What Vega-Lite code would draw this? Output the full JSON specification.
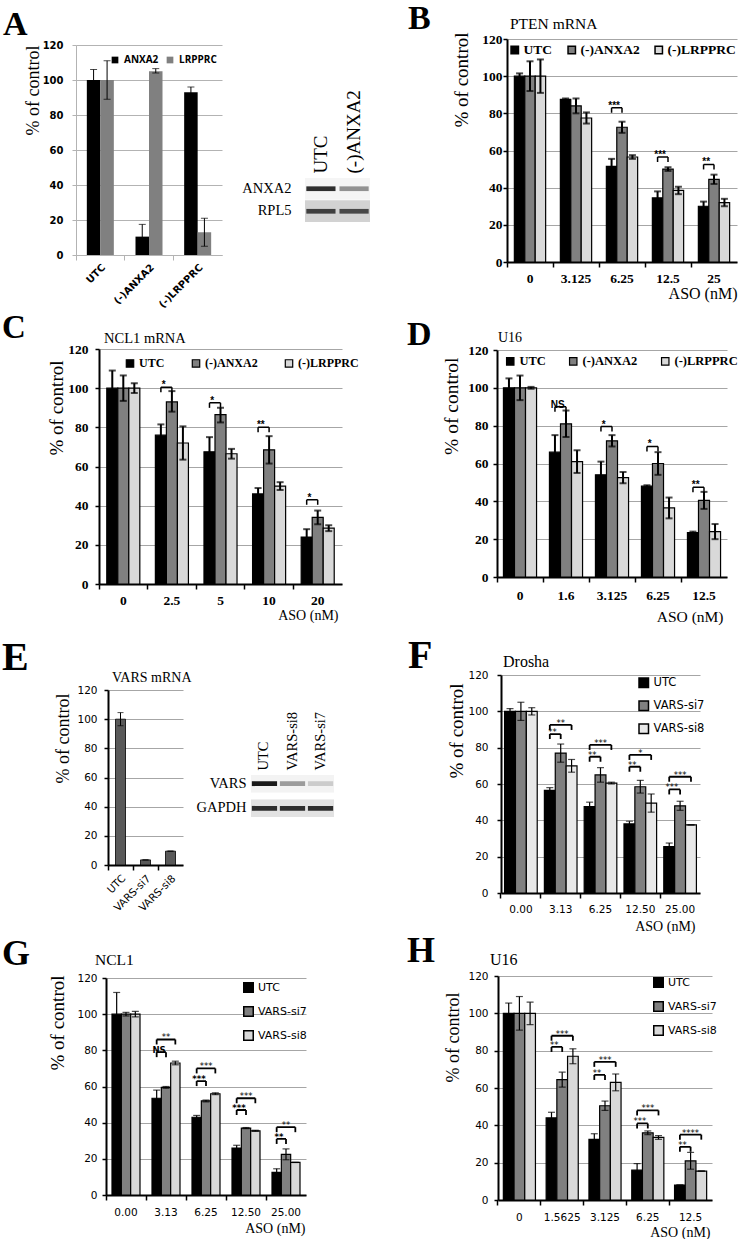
{
  "$schema": "https://vega.github.io/schema/vega-lite/v6.json",
  "padding": 0,
  "background": "white",
  "config": {"view": {"stroke": null}, "concat": {"spacing": 0}, "font": "Liberation Serif", "axisY": {"labelOverlap": false}},
  "datasets": {
    "A": [
      {"cat": "UTC", "grp": "ANXA2", "val": 100, "lo": 94, "hi": 106},
      {"cat": "UTC", "grp": "LRPPRC", "val": 100, "lo": 89, "hi": 111},
      {"cat": "(-)ANXA2", "grp": "ANXA2", "val": 10.5, "lo": 3, "hi": 17.5},
      {"cat": "(-)ANXA2", "grp": "LRPPRC", "val": 105, "lo": 104, "hi": 106.5},
      {"cat": "(-)LRPPRC", "grp": "ANXA2", "val": 93, "lo": 90, "hi": 96},
      {"cat": "(-)LRPPRC", "grp": "LRPPRC", "val": 13, "lo": 5, "hi": 21}
    ],
    "blotA": [
      {"lane": "UTC", "protein": "ANXA2", "intensity": 0.9},
      {"lane": "(-)ANXA2", "protein": "ANXA2", "intensity": 0.45},
      {"lane": "UTC", "protein": "RPL5", "intensity": 0.8},
      {"lane": "(-)ANXA2", "protein": "RPL5", "intensity": 0.75}
    ],
    "B": [
      {"dose": "0", "grp": "UTC", "val": 100, "lo": 98.5, "hi": 101.5},
      {"dose": "0", "grp": "(-)ANXA2", "val": 100, "lo": 92, "hi": 108},
      {"dose": "0", "grp": "(-)LRPPRC", "val": 100, "lo": 91, "hi": 109},
      {"dose": "3.125", "grp": "UTC", "val": 87.5, "lo": 87, "hi": 88},
      {"dose": "3.125", "grp": "(-)ANXA2", "val": 84, "lo": 80, "hi": 88},
      {"dose": "3.125", "grp": "(-)LRPPRC", "val": 77.5, "lo": 74.5, "hi": 80.5},
      {"dose": "6.25", "grp": "UTC", "val": 51.5, "lo": 47.5, "hi": 55.5},
      {"dose": "6.25", "grp": "(-)ANXA2", "val": 72.5, "lo": 69.5, "hi": 75.5},
      {"dose": "6.25", "grp": "(-)LRPPRC", "val": 56.5, "lo": 55.5, "hi": 57.5},
      {"dose": "12.5", "grp": "UTC", "val": 34.5, "lo": 31, "hi": 38},
      {"dose": "12.5", "grp": "(-)ANXA2", "val": 50, "lo": 49, "hi": 51},
      {"dose": "12.5", "grp": "(-)LRPPRC", "val": 38.5, "lo": 36.5, "hi": 40.5},
      {"dose": "25", "grp": "UTC", "val": 30, "lo": 27.5, "hi": 32.5},
      {"dose": "25", "grp": "(-)ANXA2", "val": 44.5, "lo": 42, "hi": 47},
      {"dose": "25", "grp": "(-)LRPPRC", "val": 32, "lo": 30, "hi": 34}
    ],
    "Bsig": [
      {"dose": "6.25", "to": "(-)ANXA2", "level": 83, "sig": "***"},
      {"dose": "12.5", "to": "(-)ANXA2", "level": 56.5, "sig": "***"},
      {"dose": "25", "to": "(-)ANXA2", "level": 52.5, "sig": "**"}
    ],
    "C": [
      {"dose": "0", "grp": "UTC", "val": 100, "lo": 91, "hi": 109},
      {"dose": "0", "grp": "(-)ANXA2", "val": 100, "lo": 93.5, "hi": 106.5},
      {"dose": "0", "grp": "(-)LRPPRC", "val": 100, "lo": 97.5, "hi": 102.5},
      {"dose": "2.5", "grp": "UTC", "val": 76, "lo": 70.5, "hi": 81.5},
      {"dose": "2.5", "grp": "(-)ANXA2", "val": 93, "lo": 88, "hi": 98.5},
      {"dose": "2.5", "grp": "(-)LRPPRC", "val": 72, "lo": 63.5, "hi": 80.5},
      {"dose": "5", "grp": "UTC", "val": 67.5, "lo": 60, "hi": 75},
      {"dose": "5", "grp": "(-)ANXA2", "val": 86.5, "lo": 82.5, "hi": 90},
      {"dose": "5", "grp": "(-)LRPPRC", "val": 66.5, "lo": 64, "hi": 69},
      {"dose": "10", "grp": "UTC", "val": 46, "lo": 43, "hi": 49},
      {"dose": "10", "grp": "(-)ANXA2", "val": 68.5, "lo": 61.5, "hi": 75.5},
      {"dose": "10", "grp": "(-)LRPPRC", "val": 50, "lo": 48, "hi": 52},
      {"dose": "20", "grp": "UTC", "val": 24, "lo": 20, "hi": 28},
      {"dose": "20", "grp": "(-)ANXA2", "val": 34, "lo": 30.5, "hi": 37.5},
      {"dose": "20", "grp": "(-)LRPPRC", "val": 28.5, "lo": 27, "hi": 30}
    ],
    "Csig": [
      {"dose": "2.5", "to": "(-)ANXA2", "level": 100.5, "sig": "*"},
      {"dose": "5", "to": "(-)ANXA2", "level": 92.5, "sig": "*"},
      {"dose": "10", "to": "(-)ANXA2", "level": 80, "sig": "**"},
      {"dose": "20", "to": "(-)ANXA2", "level": 43, "sig": "*"}
    ],
    "D": [
      {"dose": "0", "grp": "UTC", "val": 100, "lo": 95, "hi": 105},
      {"dose": "0", "grp": "(-)ANXA2", "val": 100, "lo": 93.5, "hi": 106.5},
      {"dose": "0", "grp": "(-)LRPPRC", "val": 100, "lo": 99.5, "hi": 100.5},
      {"dose": "1.6", "grp": "UTC", "val": 66, "lo": 57, "hi": 75},
      {"dose": "1.6", "grp": "(-)ANXA2", "val": 81, "lo": 74, "hi": 88},
      {"dose": "1.6", "grp": "(-)LRPPRC", "val": 61, "lo": 55, "hi": 67},
      {"dose": "3.125", "grp": "UTC", "val": 54, "lo": 47, "hi": 61},
      {"dose": "3.125", "grp": "(-)ANXA2", "val": 72, "lo": 69, "hi": 75},
      {"dose": "3.125", "grp": "(-)LRPPRC", "val": 52.5, "lo": 49.5, "hi": 55.5},
      {"dose": "6.25", "grp": "UTC", "val": 48, "lo": 47.5, "hi": 48.5},
      {"dose": "6.25", "grp": "(-)ANXA2", "val": 60, "lo": 54, "hi": 66},
      {"dose": "6.25", "grp": "(-)LRPPRC", "val": 36.5, "lo": 31, "hi": 42},
      {"dose": "12.5", "grp": "UTC", "val": 23.5, "lo": 23, "hi": 24},
      {"dose": "12.5", "grp": "(-)ANXA2", "val": 40.5, "lo": 36, "hi": 45},
      {"dose": "12.5", "grp": "(-)LRPPRC", "val": 24, "lo": 20, "hi": 28}
    ],
    "Dsig": [
      {"dose": "1.6", "to": "(-)ANXA2", "level": 90, "sig": "NS"},
      {"dose": "3.125", "to": "(-)ANXA2", "level": 79.5, "sig": "*"},
      {"dose": "6.25", "to": "(-)ANXA2", "level": 69, "sig": "*"},
      {"dose": "12.5", "to": "(-)ANXA2", "level": 47.5, "sig": "**"}
    ],
    "E": [
      {"cat": "UTC", "val": 100, "lo": 95.5, "hi": 104.5},
      {"cat": "VARS-si7", "val": 3.5, "lo": 3.5, "hi": 3.5},
      {"cat": "VARS-si8", "val": 9.5, "lo": 9.5, "hi": 9.5}
    ],
    "blotE": [
      {"lane": "UTC", "protein": "VARS", "intensity": 1},
      {"lane": "VARS-si8", "protein": "VARS", "intensity": 0.4},
      {"lane": "VARS-si7", "protein": "VARS", "intensity": 0.18},
      {"lane": "UTC", "protein": "GAPDH", "intensity": 0.9},
      {"lane": "VARS-si8", "protein": "GAPDH", "intensity": 0.9},
      {"lane": "VARS-si7", "protein": "GAPDH", "intensity": 0.9}
    ],
    "F": [
      {"dose": "0.00", "grp": "UTC", "val": 100, "lo": 98.5, "hi": 101.5},
      {"dose": "0.00", "grp": "VARS-si7", "val": 100, "lo": 95, "hi": 105},
      {"dose": "0.00", "grp": "VARS-si8", "val": 100, "lo": 98, "hi": 102},
      {"dose": "3.13", "grp": "UTC", "val": 56.5, "lo": 55, "hi": 58},
      {"dose": "3.13", "grp": "VARS-si7", "val": 77, "lo": 72, "hi": 82},
      {"dose": "3.13", "grp": "VARS-si8", "val": 70, "lo": 66.5, "hi": 73.5},
      {"dose": "6.25", "grp": "UTC", "val": 47.5, "lo": 45, "hi": 50},
      {"dose": "6.25", "grp": "VARS-si7", "val": 65, "lo": 61, "hi": 69},
      {"dose": "6.25", "grp": "VARS-si8", "val": 60.5, "lo": 60, "hi": 61},
      {"dose": "12.50", "grp": "UTC", "val": 38, "lo": 36.5, "hi": 39.5},
      {"dose": "12.50", "grp": "VARS-si7", "val": 58.5, "lo": 55, "hi": 62},
      {"dose": "12.50", "grp": "VARS-si8", "val": 49.5, "lo": 44.5, "hi": 54.5},
      {"dose": "25.00", "grp": "UTC", "val": 25.5, "lo": 23.5, "hi": 27.5},
      {"dose": "25.00", "grp": "VARS-si7", "val": 48, "lo": 45.5, "hi": 50.5},
      {"dose": "25.00", "grp": "VARS-si8", "val": 37.5, "lo": 37.5, "hi": 37.5}
    ],
    "Fsig": [
      {"dose": "3.13", "to": "VARS-si8", "level": 92.5, "sig": "**"},
      {"dose": "3.13", "to": "VARS-si7", "level": 87.5, "sig": "**"},
      {"dose": "6.25", "to": "VARS-si8", "level": 81.5, "sig": "***"},
      {"dose": "6.25", "to": "VARS-si7", "level": 75, "sig": "**"},
      {"dose": "12.50", "to": "VARS-si8", "level": 76, "sig": "*"},
      {"dose": "12.50", "to": "VARS-si7", "level": 69.5, "sig": "**"},
      {"dose": "25.00", "to": "VARS-si8", "level": 64, "sig": "***"},
      {"dose": "25.00", "to": "VARS-si7", "level": 57, "sig": "***"}
    ],
    "G": [
      {"dose": "0.00", "grp": "UTC", "val": 100, "lo": 88, "hi": 112},
      {"dose": "0.00", "grp": "VARS-si7", "val": 100, "lo": 99, "hi": 101},
      {"dose": "0.00", "grp": "VARS-si8", "val": 100, "lo": 98.5, "hi": 101.5},
      {"dose": "3.13", "grp": "UTC", "val": 53.5, "lo": 49, "hi": 58},
      {"dose": "3.13", "grp": "VARS-si7", "val": 59.5, "lo": 59, "hi": 60},
      {"dose": "3.13", "grp": "VARS-si8", "val": 73, "lo": 72, "hi": 74},
      {"dose": "6.25", "grp": "UTC", "val": 43, "lo": 42, "hi": 44},
      {"dose": "6.25", "grp": "VARS-si7", "val": 52, "lo": 51.5, "hi": 52.5},
      {"dose": "6.25", "grp": "VARS-si8", "val": 56, "lo": 55.5, "hi": 56.5},
      {"dose": "12.50", "grp": "UTC", "val": 26, "lo": 24.5, "hi": 27.5},
      {"dose": "12.50", "grp": "VARS-si7", "val": 37, "lo": 36.7, "hi": 37.3},
      {"dose": "12.50", "grp": "VARS-si8", "val": 35.5, "lo": 35.2, "hi": 35.8},
      {"dose": "25.00", "grp": "UTC", "val": 12.5, "lo": 10.5, "hi": 14.5},
      {"dose": "25.00", "grp": "VARS-si7", "val": 22.5, "lo": 19.5, "hi": 25.5},
      {"dose": "25.00", "grp": "VARS-si8", "val": 18, "lo": 18, "hi": 18}
    ],
    "Gsig": [
      {"dose": "3.13", "to": "VARS-si8", "level": 86, "sig": "**"},
      {"dose": "3.13", "to": "VARS-si7", "level": 79, "sig": "NS"},
      {"dose": "6.25", "to": "VARS-si8", "level": 70, "sig": "***"},
      {"dose": "6.25", "to": "VARS-si7", "level": 63, "sig": "***"},
      {"dose": "12.50", "to": "VARS-si8", "level": 53.5, "sig": "***"},
      {"dose": "12.50", "to": "VARS-si7", "level": 47, "sig": "***"},
      {"dose": "25.00", "to": "VARS-si8", "level": 37.5, "sig": "**"},
      {"dose": "25.00", "to": "VARS-si7", "level": 31, "sig": "**"}
    ],
    "H": [
      {"dose": "0", "grp": "UTC", "val": 100, "lo": 94.5, "hi": 105.5},
      {"dose": "0", "grp": "VARS-si7", "val": 100, "lo": 91, "hi": 109},
      {"dose": "0", "grp": "VARS-si8", "val": 100, "lo": 94, "hi": 106},
      {"dose": "1.5625", "grp": "UTC", "val": 44, "lo": 41, "hi": 47},
      {"dose": "1.5625", "grp": "VARS-si7", "val": 64.5, "lo": 60.5, "hi": 68.5},
      {"dose": "1.5625", "grp": "VARS-si8", "val": 77, "lo": 73, "hi": 81},
      {"dose": "3.125", "grp": "UTC", "val": 32.5, "lo": 29.5, "hi": 35.5},
      {"dose": "3.125", "grp": "VARS-si7", "val": 50.5, "lo": 48, "hi": 53},
      {"dose": "3.125", "grp": "VARS-si8", "val": 63, "lo": 58.5, "hi": 67.5},
      {"dose": "6.25", "grp": "UTC", "val": 16, "lo": 12.5, "hi": 19.5},
      {"dose": "6.25", "grp": "VARS-si7", "val": 36, "lo": 35, "hi": 37},
      {"dose": "6.25", "grp": "VARS-si8", "val": 33.5, "lo": 32.5, "hi": 34.5},
      {"dose": "12.5", "grp": "UTC", "val": 8, "lo": 8, "hi": 8},
      {"dose": "12.5", "grp": "VARS-si7", "val": 21, "lo": 16.5, "hi": 25.5},
      {"dose": "12.5", "grp": "VARS-si8", "val": 15.5, "lo": 15.5, "hi": 15.5}
    ],
    "Hsig": [
      {"dose": "1.5625", "to": "VARS-si8", "level": 88, "sig": "***"},
      {"dose": "1.5625", "to": "VARS-si7", "level": 82, "sig": "**"},
      {"dose": "3.125", "to": "VARS-si8", "level": 74, "sig": "***"},
      {"dose": "3.125", "to": "VARS-si7", "level": 67, "sig": "**"},
      {"dose": "6.25", "to": "VARS-si8", "level": 48, "sig": "***"},
      {"dose": "6.25", "to": "VARS-si7", "level": 41, "sig": "***"},
      {"dose": "12.5", "to": "VARS-si8", "level": 35, "sig": "****"},
      {"dose": "12.5", "to": "VARS-si7", "level": 28.5, "sig": "**"}
    ]
  },
  "spacing": 0,
  "resolve": {"scale": {"color": "independent", "xOffset": "independent", "fill": "independent", "opacity": "independent"}},
  "vconcat": [
    {
      "spacing": 0, "bounds": "flush",
      "resolve": {"scale": {"color": "independent", "xOffset": "independent", "fill": "independent", "opacity": "independent"}},
      "hconcat": [
        {"width": 76, "height": 312, "data": {"values": []}, "mark": "point",
         "title": {"text": "A", "anchor": "start", "frame": "group", "dx": 3, "offset": -69, "baseline": "alphabetic", "font": "Liberation Serif", "fontSize": 34, "fontWeight": "bold", "color": "#000"}},
        {
          "width": 146, "height": 255,
          "data": {"name": "A"},
          "encoding": {"x": {"field": "cat", "type": "nominal", "scale": {"domain": ["UTC", "(-)ANXA2", "(-)LRPPRC"], "paddingInner": 0.445, "paddingOuter": 0.2225},
            "axis": {"title": null, "labelAngle": -45, "labelFont": "DejaVu Sans", "labelFontWeight": "bold", "labelFontSize": 10, "labelColor": "#000", "labelPadding": 2, "tickSize": 5, "tickColor": "#b3b3b3", "domainColor": "#b3b3b3", "bandPosition": -0.4, "grid": false}}},
          "layer": [
            {"mark": {"type": "bar"},
             "encoding": {
               "xOffset": {"field": "grp", "type": "nominal", "scale": {"domain": ["ANXA2", "LRPPRC"], "paddingInner": 0, "paddingOuter": 0}},
               "y": {"field": "val", "type": "quantitative", "scale": {"domain": [0, 120], "range": [255, 45], "nice": false},
                 "axis": {"values": [0, 20, 40, 60, 80, 100, 120], "tickCount": 7, "title": "% of control", "titleFont": "Liberation Serif", "titleFontSize": 18, "titleFontWeight": "normal", "titleColor": "#000", "titleX": -38, "titleY": 45, "titleAlign": "right", "titleBaseline": "alphabetic", "labelFont": "DejaVu Sans", "labelFontWeight": "bold", "labelFontSize": 10, "labelColor": "#000", "labelPadding": 9, "tickSize": 4, "tickColor": "#b3b3b3", "domainColor": "#b3b3b3", "grid": true, "gridColor": "#b3b3b3"}},
               "color": {"field": "grp", "type": "nominal", "scale": {"domain": ["ANXA2", "LRPPRC"], "range": ["#000000", "#808080"]},
                 "legend": {"orient": "none", "legendX": 34, "legendY": 55, "direction": "horizontal", "title": null, "symbolType": "square", "symbolSize": 45, "symbolStrokeWidth": 0, "labelFont": "Open Sans", "labelFontWeight": "bold", "labelFontSize": 10, "labelColor": "#000", "labelOffset": 4, "columnPadding": 6, "padding": 0}}
             }},
            {"mark": {"type": "rule", "color": "#000", "strokeWidth": 1},
             "encoding": {"xOffset": {"field": "grp", "type": "nominal", "scale": {"domain": ["ANXA2", "LRPPRC"], "paddingInner": 0, "paddingOuter": 0}},
               "y": {"field": "lo", "type": "quantitative"}, "y2": {"field": "hi"}}},
            {"mark": {"type": "tick", "color": "#000", "size": 7, "thickness": 1},
             "encoding": {"xOffset": {"field": "grp", "type": "nominal", "scale": {"domain": ["ANXA2", "LRPPRC"], "paddingInner": 0, "paddingOuter": 0}},
               "y": {"field": "hi", "type": "quantitative"}}},
            {"mark": {"type": "tick", "color": "#000", "size": 7, "thickness": 1},
             "encoding": {"xOffset": {"field": "grp", "type": "nominal", "scale": {"domain": ["ANXA2", "LRPPRC"], "paddingInner": 0, "paddingOuter": 0}},
               "y": {"field": "lo", "type": "quantitative"}}}
          ]
        },
        {"width": 83, "height": 1, "data": {"values": []}, "mark": "point"},
        {
          "width": 65, "height": 222,
          "data": {"name": "blotA"},
          "encoding": {"y": {"field": "protein", "type": "nominal", "scale": {"domain": ["ANXA2", "RPL5"], "range": [178, 222], "paddingInner": 0.05, "paddingOuter": 0},
            "axis": {"title": null, "orient": "left", "domain": false, "ticks": false, "labelFont": "Liberation Serif", "labelFontSize": 14.5, "labelColor": "#000", "labelPadding": 14}}},
          "layer": [
            {"mark": {"type": "bar"},
             "encoding": {"fill": {"field": "protein", "type": "nominal", "scale": {"domain": ["ANXA2", "RPL5"], "range": ["#f5f5f5", "#d2d2d2"]}, "legend": null}}},
            {"mark": {"type": "bar", "fill": "#1a1a1a", "height": {"band": 0.22}},
             "encoding": {
               "x": {"field": "lane", "type": "nominal", "scale": {"domain": ["UTC", "(-)ANXA2"], "paddingInner": 0.12, "paddingOuter": 0.04},
                 "axis": {"title": null, "orient": "top", "offset": -178, "domain": false, "ticks": false, "labelAngle": -90, "labelFont": "Liberation Serif", "labelFontSize": 19, "labelColor": "#000", "labelPadding": 5}},
               "opacity": {"field": "intensity", "type": "quantitative", "scale": {"domain": [0, 1], "range": [0, 1]}, "legend": null}
             }}
          ]
        },
        {"width": 137, "height": 1, "data": {"values": []}, "mark": "point",
         "title": {"text": "B", "anchor": "start", "frame": "group", "dx": 38, "offset": -63, "baseline": "alphabetic", "font": "Liberation Serif", "fontSize": 34, "fontWeight": "bold", "color": "#000"}},
        {
          "width": 230, "height": 262,
          "title": {"text": "PTEN mRNA", "anchor": "start", "frame": "group", "dx": 3, "offset": -44.5, "baseline": "alphabetic", "font": "Liberation Serif", "fontSize": 15.5, "fontWeight": "normal", "color": "#000"},
          "data": {"name": "B"},
          "encoding": {"x": {"field": "dose", "type": "nominal", "scale": {"domain": ["0", "3.125", "6.25", "12.5", "25"], "paddingInner": 0.32, "paddingOuter": 0.16},
            "axis": {"title": "ASO (nM)", "titleFont": "Liberation Serif", "titleFontSize": 16, "titleFontWeight": "normal", "titleColor": "#000", "titleAnchor": "end", "titleX": 230, "titleY": 36, "titleAlign": "right", "titleBaseline": "alphabetic", "labelAngle": 0, "labelFont": "Liberation Serif", "labelFontWeight": "bold", "labelFontSize": 13.5, "labelColor": "#000", "labelPadding": 4, "tickSize": 5, "tickColor": "#000", "tickWidth": 1.5, "domainColor": "#000", "domainWidth": 2, "bandPosition": -0.235, "grid": false}}},
          "layer": [
            {"mark": {"type": "bar", "stroke": "#000", "strokeWidth": 1.2},
             "encoding": {
               "xOffset": {"field": "grp", "type": "nominal", "scale": {"domain": ["UTC", "(-)ANXA2", "(-)LRPPRC"], "paddingInner": 0, "paddingOuter": 0}},
               "y": {"field": "val", "type": "quantitative", "scale": {"domain": [0, 120], "range": [262, 39], "nice": false},
                 "axis": {"values": [0, 20, 40, 60, 80, 100, 120], "tickCount": 7, "title": "% of control", "titleFont": "Liberation Serif", "titleFontSize": 19, "titleFontWeight": "normal", "titleColor": "#000", "titleX": -40, "titleY": 32, "titleAlign": "right", "titleBaseline": "alphabetic", "labelFont": "Liberation Serif", "labelFontWeight": "bold", "labelFontSize": 13.5, "labelColor": "#000", "labelPadding": 1, "tickSize": 4, "tickColor": "#000", "tickWidth": 1.5, "domainColor": "#000", "domainWidth": 2, "grid": true, "gridColor": "#a6a6a6"}},
               "color": {"field": "grp", "type": "nominal", "scale": {"domain": ["UTC", "(-)ANXA2", "(-)LRPPRC"], "range": ["#000000", "#808080", "#d9d9d9"]},
                 "legend": {"orient": "none", "legendX": 1, "legendY": 43, "direction": "horizontal", "title": null, "symbolType": "square", "symbolSize": 55, "symbolStrokeColor": "#000", "symbolStrokeWidth": 1.5, "labelFont": "Liberation Serif", "labelFontWeight": "bold", "labelFontSize": 13.5, "labelColor": "#000", "labelOffset": 2, "columnPadding": 12, "padding": 0}}
             }},
            {"mark": {"type": "rule", "color": "#000", "strokeWidth": 2},
             "encoding": {"xOffset": {"field": "grp", "type": "nominal", "scale": {"domain": ["UTC", "(-)ANXA2", "(-)LRPPRC"], "paddingInner": 0, "paddingOuter": 0}},
               "y": {"field": "lo", "type": "quantitative"}, "y2": {"field": "hi"}}},
            {"mark": {"type": "tick", "color": "#000", "size": 7, "thickness": 2},
             "encoding": {"xOffset": {"field": "grp", "type": "nominal", "scale": {"domain": ["UTC", "(-)ANXA2", "(-)LRPPRC"], "paddingInner": 0, "paddingOuter": 0}},
               "y": {"field": "hi", "type": "quantitative"}}},
            {"mark": {"type": "tick", "color": "#000", "size": 7, "thickness": 2},
             "encoding": {"xOffset": {"field": "grp", "type": "nominal", "scale": {"domain": ["UTC", "(-)ANXA2", "(-)LRPPRC"], "paddingInner": 0, "paddingOuter": 0}},
               "y": {"field": "lo", "type": "quantitative"}}},
            {"data": {"name": "Bsig"}, "mark": {"type": "bar", "fillOpacity": 0, "stroke": "#000", "strokeWidth": 1.5},
             "encoding": {"xOffset": {"field": "to", "type": "nominal", "scale": {"domain": ["(-)ANXA2"], "paddingInner": 0, "paddingOuter": 1, "align": 0.25}},
               "y": {"field": "level", "type": "quantitative"}, "y2": {"field": "level"}}},
            {"data": {"name": "Bsig"}, "mark": {"type": "rule", "color": "#000", "strokeWidth": 1.5, "y2Offset": 5},
             "encoding": {"xOffset": {"datum": "UTC", "type": "nominal", "scale": {"domain": ["UTC", "(-)ANXA2", "(-)LRPPRC"], "paddingInner": 0, "paddingOuter": 0}},
               "y": {"field": "level", "type": "quantitative"}, "y2": {"field": "level"}}},
            {"data": {"name": "Bsig"}, "mark": {"type": "rule", "color": "#000", "strokeWidth": 1.5, "y2Offset": 5},
             "encoding": {"xOffset": {"field": "to", "type": "nominal", "scale": {"domain": ["UTC", "(-)ANXA2", "(-)LRPPRC"], "paddingInner": 0, "paddingOuter": 0}},
               "y": {"field": "level", "type": "quantitative"}, "y2": {"field": "level"}}},
            {"data": {"name": "Bsig"}, "mark": {"type": "text", "baseline": "alphabetic", "dy": 1, "font": "Liberation Sans", "fontWeight": "bold", "fontSize": 10, "color": "#000"},
             "encoding": {"xOffset": {"field": "to", "type": "nominal", "scale": {"domain": ["(-)ANXA2"], "paddingInner": 0, "paddingOuter": 1, "align": 0.25}},
               "y": {"field": "level", "type": "quantitative"}, "text": {"field": "sig"}}}
          ],
          "resolve": {"scale": {"xOffset": "independent"}}
        }
      ]
    },
    {
      "spacing": 0, "bounds": "flush",
      "resolve": {"scale": {"color": "independent", "xOffset": "independent", "fill": "independent", "opacity": "independent"}},
      "hconcat": [
        {"width": 99, "height": 318, "data": {"values": []}, "mark": "point",
         "title": {"text": "C", "anchor": "start", "frame": "group", "dx": 2, "offset": -59, "baseline": "alphabetic", "font": "Liberation Serif", "fontSize": 33, "fontWeight": "bold", "color": "#000"}},
        {
          "width": 243, "height": 272,
          "title": {"text": "NCL1 mRNA", "anchor": "start", "frame": "group", "dx": 5, "offset": -45.5, "baseline": "alphabetic", "font": "Liberation Serif", "fontSize": 14.5, "fontWeight": "normal", "color": "#000"},
          "data": {"name": "C"},
          "encoding": {"x": {"field": "dose", "type": "nominal", "scale": {"domain": ["0", "2.5", "5", "10", "20"], "paddingInner": 0.32, "paddingOuter": 0.16},
            "axis": {"title": "ASO (nM)", "titleFont": "Liberation Serif", "titleFontSize": 14, "titleFontWeight": "normal", "titleColor": "#000", "titleAnchor": "end", "titleX": 239, "titleY": 35, "titleAlign": "right", "titleBaseline": "alphabetic", "labelAngle": 0, "labelFont": "Liberation Serif", "labelFontWeight": "bold", "labelFontSize": 13.5, "labelColor": "#000", "labelPadding": 4, "tickSize": 5, "tickColor": "#000", "tickWidth": 1.5, "domainColor": "#000", "domainWidth": 2, "bandPosition": -0.235, "grid": false}}},
          "layer": [
            {"mark": {"type": "bar", "stroke": "#000", "strokeWidth": 1.2},
             "encoding": {
               "xOffset": {"field": "grp", "type": "nominal", "scale": {"domain": ["UTC", "(-)ANXA2", "(-)LRPPRC"], "paddingInner": 0, "paddingOuter": 0}},
               "y": {"field": "val", "type": "quantitative", "scale": {"domain": [0, 120], "range": [272, 37], "nice": false},
                 "axis": {"values": [0, 20, 40, 60, 80, 100, 120], "tickCount": 7, "title": "% of control", "titleFont": "Liberation Serif", "titleFontSize": 19, "titleFontWeight": "normal", "titleColor": "#000", "titleX": -37, "titleY": 48, "titleAlign": "right", "titleBaseline": "alphabetic", "labelFont": "Liberation Serif", "labelFontWeight": "bold", "labelFontSize": 13.5, "labelColor": "#000", "labelPadding": 7, "tickSize": 4, "tickColor": "#000", "tickWidth": 1.5, "domainColor": "#000", "domainWidth": 2, "grid": true, "gridColor": "#a6a6a6"}},
               "color": {"field": "grp", "type": "nominal", "scale": {"domain": ["UTC", "(-)ANXA2", "(-)LRPPRC"], "range": ["#000000", "#808080", "#d9d9d9"]},
                 "legend": {"orient": "none", "legendX": 25, "legendY": 45, "direction": "horizontal", "title": null, "symbolType": "square", "symbolSize": 55, "symbolStrokeColor": "#000", "symbolStrokeWidth": 1.2, "labelFont": "Liberation Serif", "labelFontWeight": "bold", "labelFontSize": 12, "labelColor": "#000", "labelOffset": 3, "columnPadding": 24, "padding": 0}}
             }},
            {"mark": {"type": "rule", "color": "#000", "strokeWidth": 2},
             "encoding": {"xOffset": {"field": "grp", "type": "nominal", "scale": {"domain": ["UTC", "(-)ANXA2", "(-)LRPPRC"], "paddingInner": 0, "paddingOuter": 0}},
               "y": {"field": "lo", "type": "quantitative"}, "y2": {"field": "hi"}}},
            {"mark": {"type": "tick", "color": "#000", "size": 7, "thickness": 2},
             "encoding": {"xOffset": {"field": "grp", "type": "nominal", "scale": {"domain": ["UTC", "(-)ANXA2", "(-)LRPPRC"], "paddingInner": 0, "paddingOuter": 0}},
               "y": {"field": "hi", "type": "quantitative"}}},
            {"mark": {"type": "tick", "color": "#000", "size": 7, "thickness": 2},
             "encoding": {"xOffset": {"field": "grp", "type": "nominal", "scale": {"domain": ["UTC", "(-)ANXA2", "(-)LRPPRC"], "paddingInner": 0, "paddingOuter": 0}},
               "y": {"field": "lo", "type": "quantitative"}}},
            {"data": {"name": "Csig"}, "mark": {"type": "bar", "fillOpacity": 0, "stroke": "#000", "strokeWidth": 1.5},
             "encoding": {"xOffset": {"field": "to", "type": "nominal", "scale": {"domain": ["(-)ANXA2"], "paddingInner": 0, "paddingOuter": 1, "align": 0.25}},
               "y": {"field": "level", "type": "quantitative"}, "y2": {"field": "level"}}},
            {"data": {"name": "Csig"}, "mark": {"type": "rule", "color": "#000", "strokeWidth": 1.5, "y2Offset": 5},
             "encoding": {"xOffset": {"datum": "UTC", "type": "nominal", "scale": {"domain": ["UTC", "(-)ANXA2", "(-)LRPPRC"], "paddingInner": 0, "paddingOuter": 0}},
               "y": {"field": "level", "type": "quantitative"}, "y2": {"field": "level"}}},
            {"data": {"name": "Csig"}, "mark": {"type": "rule", "color": "#000", "strokeWidth": 1.5, "y2Offset": 5},
             "encoding": {"xOffset": {"field": "to", "type": "nominal", "scale": {"domain": ["UTC", "(-)ANXA2", "(-)LRPPRC"], "paddingInner": 0, "paddingOuter": 0}},
               "y": {"field": "level", "type": "quantitative"}, "y2": {"field": "level"}}},
            {"data": {"name": "Csig"}, "mark": {"type": "text", "baseline": "alphabetic", "dy": 1, "font": "Liberation Sans", "fontWeight": "bold", "fontSize": 10, "color": "#000"},
             "encoding": {"xOffset": {"field": "to", "type": "nominal", "scale": {"domain": ["(-)ANXA2"], "paddingInner": 0, "paddingOuter": 1, "align": 0.25}},
               "y": {"field": "level", "type": "quantitative"}, "text": {"field": "sig"}}}
          ],
          "resolve": {"scale": {"xOffset": "independent"}}
        },
        {"width": 155, "height": 1, "data": {"values": []}, "mark": "point",
         "title": {"text": "D", "anchor": "start", "frame": "group", "dx": 65, "offset": -67, "baseline": "alphabetic", "font": "Liberation Serif", "fontSize": 34, "fontWeight": "bold", "color": "#000"}},
        {
          "width": 230, "height": 265,
          "title": {"text": "U16", "anchor": "start", "frame": "group", "dx": 1, "offset": -44, "baseline": "alphabetic", "font": "Liberation Serif", "fontSize": 14, "fontWeight": "normal", "color": "#000"},
          "data": {"name": "D"},
          "encoding": {"x": {"field": "dose", "type": "nominal", "scale": {"domain": ["0", "1.6", "3.125", "6.25", "12.5"], "paddingInner": 0.28, "paddingOuter": 0.14},
            "axis": {"title": "ASO (nM)", "titleFont": "Liberation Serif", "titleFontSize": 15.5, "titleFontWeight": "normal", "titleColor": "#000", "titleAnchor": "end", "titleX": 226, "titleY": 44, "titleAlign": "right", "titleBaseline": "alphabetic", "labelAngle": 0, "labelFont": "Liberation Serif", "labelFontWeight": "bold", "labelFontSize": 13.5, "labelColor": "#000", "labelPadding": 6, "tickSize": 5, "tickColor": "#000", "tickWidth": 1.5, "domainColor": "#000", "domainWidth": 2, "bandPosition": -0.194, "grid": false}}},
          "layer": [
            {"mark": {"type": "bar", "stroke": "#000", "strokeWidth": 1.2},
             "encoding": {
               "xOffset": {"field": "grp", "type": "nominal", "scale": {"domain": ["UTC", "(-)ANXA2", "(-)LRPPRC"], "paddingInner": 0, "paddingOuter": 0}},
               "y": {"field": "val", "type": "quantitative", "scale": {"domain": [0, 120], "range": [265, 38], "nice": false},
                 "axis": {"values": [0, 20, 40, 60, 80, 100, 120], "tickCount": 7, "title": "% of control", "titleFont": "Liberation Serif", "titleFontSize": 19.5, "titleFontWeight": "normal", "titleColor": "#000", "titleX": -40, "titleY": 45, "titleAlign": "right", "titleBaseline": "alphabetic", "labelFont": "Liberation Serif", "labelFontWeight": "bold", "labelFontSize": 13.5, "labelColor": "#000", "labelPadding": 5, "tickSize": 4, "tickColor": "#000", "tickWidth": 1.5, "domainColor": "#000", "domainWidth": 2, "grid": true, "gridColor": "#a6a6a6"}},
               "color": {"field": "grp", "type": "nominal", "scale": {"domain": ["UTC", "(-)ANXA2", "(-)LRPPRC"], "range": ["#000000", "#808080", "#d9d9d9"]},
                 "legend": {"orient": "none", "legendX": 7, "legendY": 43, "direction": "horizontal", "title": null, "symbolType": "square", "symbolSize": 55, "symbolStrokeColor": "#000", "symbolStrokeWidth": 1.2, "labelFont": "Liberation Serif", "labelFontWeight": "bold", "labelFontSize": 12.5, "labelColor": "#000", "labelOffset": 3, "columnPadding": 21, "padding": 0}}
             }},
            {"mark": {"type": "rule", "color": "#000", "strokeWidth": 2},
             "encoding": {"xOffset": {"field": "grp", "type": "nominal", "scale": {"domain": ["UTC", "(-)ANXA2", "(-)LRPPRC"], "paddingInner": 0, "paddingOuter": 0}},
               "y": {"field": "lo", "type": "quantitative"}, "y2": {"field": "hi"}}},
            {"mark": {"type": "tick", "color": "#000", "size": 7, "thickness": 2},
             "encoding": {"xOffset": {"field": "grp", "type": "nominal", "scale": {"domain": ["UTC", "(-)ANXA2", "(-)LRPPRC"], "paddingInner": 0, "paddingOuter": 0}},
               "y": {"field": "hi", "type": "quantitative"}}},
            {"mark": {"type": "tick", "color": "#000", "size": 7, "thickness": 2},
             "encoding": {"xOffset": {"field": "grp", "type": "nominal", "scale": {"domain": ["UTC", "(-)ANXA2", "(-)LRPPRC"], "paddingInner": 0, "paddingOuter": 0}},
               "y": {"field": "lo", "type": "quantitative"}}},
            {"data": {"name": "Dsig"}, "mark": {"type": "bar", "fillOpacity": 0, "stroke": "#000", "strokeWidth": 1.5},
             "encoding": {"xOffset": {"field": "to", "type": "nominal", "scale": {"domain": ["(-)ANXA2"], "paddingInner": 0, "paddingOuter": 1, "align": 0.25}},
               "y": {"field": "level", "type": "quantitative"}, "y2": {"field": "level"}}},
            {"data": {"name": "Dsig"}, "mark": {"type": "rule", "color": "#000", "strokeWidth": 1.5, "y2Offset": 5},
             "encoding": {"xOffset": {"datum": "UTC", "type": "nominal", "scale": {"domain": ["UTC", "(-)ANXA2", "(-)LRPPRC"], "paddingInner": 0, "paddingOuter": 0}},
               "y": {"field": "level", "type": "quantitative"}, "y2": {"field": "level"}}},
            {"data": {"name": "Dsig"}, "mark": {"type": "rule", "color": "#000", "strokeWidth": 1.5, "y2Offset": 5},
             "encoding": {"xOffset": {"field": "to", "type": "nominal", "scale": {"domain": ["UTC", "(-)ANXA2", "(-)LRPPRC"], "paddingInner": 0, "paddingOuter": 0}},
               "y": {"field": "level", "type": "quantitative"}, "y2": {"field": "level"}}},
            {"data": {"name": "Dsig"}, "mark": {"type": "text", "baseline": "alphabetic", "dy": 1, "font": "Liberation Sans", "fontWeight": "bold", "fontSize": 10, "color": "#000"},
             "encoding": {"xOffset": {"field": "to", "type": "nominal", "scale": {"domain": ["(-)ANXA2"], "paddingInner": 0, "paddingOuter": 1, "align": 0.25}},
               "y": {"field": "level", "type": "quantitative"}, "text": {"field": "sig"}}}
          ],
          "resolve": {"scale": {"xOffset": "independent"}}
        }
      ]
    },
    {
      "spacing": 0, "bounds": "flush",
      "resolve": {"scale": {"color": "independent", "xOffset": "independent", "fill": "independent", "opacity": "independent"}},
      "hconcat": [
        {"width": 108, "height": 303, "data": {"values": []}, "mark": "point",
         "title": {"text": "E", "anchor": "start", "frame": "group", "dx": 2, "offset": -80, "baseline": "alphabetic", "font": "Liberation Serif", "fontSize": 40, "fontWeight": "bold", "color": "#000"}},
        {
          "width": 75, "height": 235,
          "title": {"text": "VARS mRNA", "anchor": "start", "frame": "group", "dx": 4, "offset": -66, "baseline": "alphabetic", "font": "Liberation Serif", "fontSize": 14, "fontWeight": "normal", "color": "#000"},
          "data": {"name": "E"},
          "encoding": {"x": {"field": "cat", "type": "nominal", "scale": {"domain": ["UTC", "VARS-si7", "VARS-si8"], "paddingInner": 0.6, "paddingOuter": 0.3},
            "axis": {"title": null, "labelAngle": -45, "labelFont": "DejaVu Sans", "labelFontSize": 10.5, "labelColor": "#000", "labelPadding": 3, "tickSize": 5, "tickColor": "#000", "tickWidth": 1.5, "domainColor": "#000", "domainWidth": 2, "bandPosition": -0.75, "grid": false}}},
          "layer": [
            {"mark": {"type": "bar", "fill": "#595959", "stroke": "#000", "strokeWidth": 0.8},
             "encoding": {"y": {"field": "val", "type": "quantitative", "scale": {"domain": [0, 120], "range": [235, 60], "nice": false},
               "axis": {"values": [0, 20, 40, 60, 80, 100, 120], "tickCount": 7, "title": "% of control", "titleFont": "Liberation Serif", "titleFontSize": 18, "titleFontWeight": "normal", "titleColor": "#000", "titleX": -40, "titleY": 63, "titleAlign": "right", "titleBaseline": "alphabetic", "labelFont": "DejaVu Sans", "labelFontSize": 10.5, "labelColor": "#000", "labelPadding": 7, "labelOverlap": false, "tickSize": 4, "tickColor": "#000", "tickWidth": 1.5, "domainColor": "#000", "domainWidth": 2, "grid": true, "gridColor": "#a6a6a6"}}}},
            {"mark": {"type": "rule", "color": "#000", "strokeWidth": 1},
             "encoding": {"y": {"field": "lo", "type": "quantitative"}, "y2": {"field": "hi"}}},
            {"mark": {"type": "tick", "color": "#000", "size": 6, "thickness": 1},
             "encoding": {"y": {"field": "hi", "type": "quantitative"}}},
            {"mark": {"type": "tick", "color": "#000", "size": 6, "thickness": 1},
             "encoding": {"y": {"field": "lo", "type": "quantitative"}}}
          ]
        },
        {"width": 68, "height": 1, "data": {"values": []}, "mark": "point"},
        {
          "width": 83, "height": 187,
          "data": {"name": "blotE"},
          "encoding": {"y": {"field": "protein", "type": "nominal", "scale": {"domain": ["VARS", "GAPDH"], "range": [145, 187], "paddingInner": 0.3, "paddingOuter": 0},
            "axis": {"title": null, "orient": "left", "domain": false, "ticks": false, "labelFont": "Liberation Serif", "labelFontSize": 14.5, "labelColor": "#000", "labelPadding": 5}}},
          "layer": [
            {"mark": {"type": "bar"},
             "encoding": {"fill": {"field": "protein", "type": "nominal", "scale": {"domain": ["VARS", "GAPDH"], "range": ["#f3f3f3", "#e2e2e2"]}, "legend": null}}},
            {"mark": {"type": "bar", "fill": "#1a1a1a", "height": {"band": 0.28}},
             "encoding": {
               "x": {"field": "lane", "type": "nominal", "scale": {"domain": ["UTC", "VARS-si8", "VARS-si7"], "paddingInner": 0.1, "paddingOuter": 0.03},
                 "axis": {"title": null, "orient": "top", "offset": -145, "domain": false, "ticks": false, "labelAngle": -90, "labelFont": "Liberation Serif", "labelFontSize": 14.5, "labelColor": "#000", "labelPadding": 5}},
               "opacity": {"field": "intensity", "type": "quantitative", "scale": {"domain": [0, 1], "range": [0, 1]}, "legend": null}
             }}
          ]
        },
        {"width": 167, "height": 1, "data": {"values": []}, "mark": "point",
         "title": {"text": "F", "anchor": "start", "frame": "group", "dx": 74, "offset": -78, "baseline": "alphabetic", "font": "Liberation Serif", "fontSize": 40, "fontWeight": "bold", "color": "#000"}},
        {
          "width": 199, "height": 263,
          "title": {"text": "Drosha", "anchor": "start", "frame": "group", "dx": 2, "offset": -53, "baseline": "alphabetic", "font": "Liberation Serif", "fontSize": 16, "fontWeight": "normal", "color": "#000"},
          "data": {"name": "F"},
          "encoding": {"x": {"field": "dose", "type": "nominal", "scale": {"domain": ["0.00", "3.13", "6.25", "12.50", "25.00"], "paddingInner": 0.18, "paddingOuter": 0.09},
            "axis": {"title": "ASO (nM)", "titleFont": "Liberation Serif", "titleFontSize": 14, "titleFontWeight": "normal", "titleColor": "#000", "titleAnchor": "end", "titleX": 194, "titleY": 37, "titleAlign": "right", "titleBaseline": "alphabetic", "labelAngle": 0, "labelFont": "DejaVu Sans", "labelFontSize": 10.5, "labelColor": "#000", "labelPadding": 6, "tickSize": 5, "tickColor": "#000", "tickWidth": 1.5, "domainColor": "#000", "domainWidth": 2, "bandPosition": -0.11, "grid": false}}},
          "layer": [
            {"mark": {"type": "bar", "stroke": "#000", "strokeWidth": 1.2},
             "encoding": {
               "xOffset": {"field": "grp", "type": "nominal", "scale": {"domain": ["UTC", "VARS-si7", "VARS-si8"], "paddingInner": 0, "paddingOuter": 0}},
               "y": {"field": "val", "type": "quantitative", "scale": {"domain": [0, 120], "range": [263, 45], "nice": false},
                 "axis": {"values": [0, 20, 40, 60, 80, 100, 120], "tickCount": 7, "title": "% of control", "titleFont": "Liberation Serif", "titleFontSize": 19, "titleFontWeight": "normal", "titleColor": "#000", "titleX": -39, "titleY": 53, "titleAlign": "right", "titleBaseline": "alphabetic", "labelFont": "DejaVu Sans", "labelFontSize": 10.5, "labelColor": "#000", "labelPadding": 9, "tickSize": 4, "tickColor": "#000", "tickWidth": 1.5, "domainColor": "#000", "domainWidth": 2, "grid": true, "gridColor": "#a6a6a6"}},
               "color": {"field": "grp", "type": "nominal", "scale": {"domain": ["UTC", "VARS-si7", "VARS-si8"], "range": ["#000000", "#808080", "#e8e8e8"]},
                 "legend": {"orient": "none", "legendX": 137, "legendY": 47, "direction": "vertical", "title": null, "symbolType": "square", "symbolSize": 90, "symbolStrokeColor": "#000", "symbolStrokeWidth": 1.5, "labelFont": "DejaVu Sans", "labelFontSize": 11.5, "labelColor": "#000", "labelOffset": 4, "rowPadding": 7, "padding": 0}}
             }},
            {"mark": {"type": "rule", "color": "#000", "strokeWidth": 1.2},
             "encoding": {"xOffset": {"field": "grp", "type": "nominal", "scale": {"domain": ["UTC", "VARS-si7", "VARS-si8"], "paddingInner": 0, "paddingOuter": 0}},
               "y": {"field": "lo", "type": "quantitative"}, "y2": {"field": "hi"}}},
            {"mark": {"type": "tick", "color": "#000", "size": 7, "thickness": 1.2},
             "encoding": {"xOffset": {"field": "grp", "type": "nominal", "scale": {"domain": ["UTC", "VARS-si7", "VARS-si8"], "paddingInner": 0, "paddingOuter": 0}},
               "y": {"field": "hi", "type": "quantitative"}}},
            {"mark": {"type": "tick", "color": "#000", "size": 7, "thickness": 1.2},
             "encoding": {"xOffset": {"field": "grp", "type": "nominal", "scale": {"domain": ["UTC", "VARS-si7", "VARS-si8"], "paddingInner": 0, "paddingOuter": 0}},
               "y": {"field": "lo", "type": "quantitative"}}},
            {"data": {"name": "Fsig"}, "transform": [{"filter": "datum.to === 'VARS-si7'"}], "mark": {"type": "bar", "fillOpacity": 0, "stroke": "#000", "strokeWidth": 1.8},
             "encoding": {"xOffset": {"field": "to", "type": "nominal", "scale": {"domain": ["VARS-si7"], "paddingInner": 0, "paddingOuter": 1, "align": 0.25}},
               "y": {"field": "level", "type": "quantitative"}, "y2": {"field": "level"}}},
            {"data": {"name": "Fsig"}, "transform": [{"filter": "datum.to === 'VARS-si8'"}], "mark": {"type": "bar", "fillOpacity": 0, "stroke": "#000", "strokeWidth": 1.8},
             "encoding": {"xOffset": {"field": "to", "type": "nominal", "scale": {"domain": ["VARS-si8"], "paddingInner": 0, "paddingOuter": 0.25}},
               "y": {"field": "level", "type": "quantitative"}, "y2": {"field": "level"}}},
            {"data": {"name": "Fsig"}, "mark": {"type": "rule", "color": "#000", "strokeWidth": 1.8, "y2Offset": 5},
             "encoding": {"xOffset": {"datum": "UTC", "type": "nominal", "scale": {"domain": ["UTC", "VARS-si7", "VARS-si8"], "paddingInner": 0, "paddingOuter": 0}},
               "y": {"field": "level", "type": "quantitative"}, "y2": {"field": "level"}}},
            {"data": {"name": "Fsig"}, "mark": {"type": "rule", "color": "#000", "strokeWidth": 1.8, "y2Offset": 5},
             "encoding": {"xOffset": {"field": "to", "type": "nominal", "scale": {"domain": ["UTC", "VARS-si7", "VARS-si8"], "paddingInner": 0, "paddingOuter": 0}},
               "y": {"field": "level", "type": "quantitative"}, "y2": {"field": "level"}}},
            {"data": {"name": "Fsig"}, "transform": [{"filter": "datum.to === 'VARS-si7'"}], "mark": {"type": "text", "baseline": "alphabetic", "dy": 1, "font": "DejaVu Sans", "fontSize": 8.5, "color": "#000"},
             "encoding": {"xOffset": {"field": "to", "type": "nominal", "scale": {"domain": ["VARS-si7"], "paddingInner": 0, "paddingOuter": 1, "align": 0.25}},
               "y": {"field": "level", "type": "quantitative"}, "text": {"field": "sig"}}},
            {"data": {"name": "Fsig"}, "transform": [{"filter": "datum.to === 'VARS-si8'"}], "mark": {"type": "text", "baseline": "alphabetic", "dy": 1, "font": "DejaVu Sans", "fontSize": 8.5, "color": "#000"},
             "encoding": {"xOffset": {"field": "to", "type": "nominal", "scale": {"domain": ["VARS-si8"], "paddingInner": 0, "paddingOuter": 0.25}},
               "y": {"field": "level", "type": "quantitative"}, "text": {"field": "sig"}}}
          ],
          "resolve": {"scale": {"xOffset": "independent"}}
        }
      ]
    },
    {
      "spacing": 0, "bounds": "flush",
      "resolve": {"scale": {"color": "independent", "xOffset": "independent", "fill": "independent", "opacity": "independent"}},
      "hconcat": [
        {"width": 106, "height": 1, "data": {"values": []}, "mark": "point",
         "title": {"text": "G", "anchor": "start", "frame": "group", "dx": 2, "offset": -68, "baseline": "alphabetic", "font": "Liberation Serif", "fontSize": 36, "fontWeight": "bold", "color": "#000"}},
        {
          "width": 200, "height": 262,
          "title": {"text": "NCL1", "anchor": "start", "frame": "group", "dx": -11, "offset": -47.5, "baseline": "alphabetic", "font": "Liberation Serif", "fontSize": 15.5, "fontWeight": "normal", "color": "#000"},
          "data": {"name": "G"},
          "encoding": {"x": {"field": "dose", "type": "nominal", "scale": {"domain": ["0.00", "3.13", "6.25", "12.50", "25.00"], "paddingInner": 0.3, "paddingOuter": 0.15},
            "axis": {"title": "ASO (nM)", "titleFont": "Liberation Serif", "titleFontSize": 14, "titleFontWeight": "normal", "titleColor": "#000", "titleAnchor": "end", "titleX": 199, "titleY": 37, "titleAlign": "right", "titleBaseline": "alphabetic", "labelAngle": 0, "labelFont": "DejaVu Sans", "labelFontSize": 10.5, "labelColor": "#000", "labelPadding": 7, "tickSize": 5, "tickColor": "#000", "tickWidth": 1.5, "domainColor": "#000", "domainWidth": 2, "bandPosition": -0.214, "grid": false}}},
          "layer": [
            {"mark": {"type": "bar", "stroke": "#000", "strokeWidth": 1.2},
             "encoding": {
               "xOffset": {"field": "grp", "type": "nominal", "scale": {"domain": ["UTC", "VARS-si7", "VARS-si8"], "paddingInner": 0, "paddingOuter": 0}},
               "y": {"field": "val", "type": "quantitative", "scale": {"domain": [0, 120], "range": [262, 45], "nice": false},
                 "axis": {"values": [0, 20, 40, 60, 80, 100, 120], "tickCount": 7, "title": "% of control", "titleFont": "Liberation Serif", "titleFontSize": 19, "titleFontWeight": "normal", "titleColor": "#000", "titleX": -43, "titleY": 42, "titleAlign": "right", "titleBaseline": "alphabetic", "labelFont": "DejaVu Sans", "labelFontSize": 10.5, "labelColor": "#000", "labelPadding": 5, "tickSize": 4, "tickColor": "#000", "tickWidth": 1.5, "domainColor": "#000", "domainWidth": 2, "grid": true, "gridColor": "#a6a6a6"}},
               "color": {"field": "grp", "type": "nominal", "scale": {"domain": ["UTC", "VARS-si7", "VARS-si8"], "range": ["#000000", "#808080", "#d9d9d9"]},
                 "legend": {"orient": "none", "legendX": 137, "legendY": 49, "direction": "vertical", "title": null, "symbolType": "square", "symbolSize": 90, "symbolStrokeColor": "#000", "symbolStrokeWidth": 1.5, "labelFont": "DejaVu Sans", "labelFontSize": 11, "labelColor": "#000", "labelOffset": 4, "rowPadding": 7, "padding": 0}}
             }},
            {"mark": {"type": "rule", "color": "#000", "strokeWidth": 1.2},
             "encoding": {"xOffset": {"field": "grp", "type": "nominal", "scale": {"domain": ["UTC", "VARS-si7", "VARS-si8"], "paddingInner": 0, "paddingOuter": 0}},
               "y": {"field": "lo", "type": "quantitative"}, "y2": {"field": "hi"}}},
            {"mark": {"type": "tick", "color": "#000", "size": 7, "thickness": 1.2},
             "encoding": {"xOffset": {"field": "grp", "type": "nominal", "scale": {"domain": ["UTC", "VARS-si7", "VARS-si8"], "paddingInner": 0, "paddingOuter": 0}},
               "y": {"field": "hi", "type": "quantitative"}}},
            {"mark": {"type": "tick", "color": "#000", "size": 7, "thickness": 1.2},
             "encoding": {"xOffset": {"field": "grp", "type": "nominal", "scale": {"domain": ["UTC", "VARS-si7", "VARS-si8"], "paddingInner": 0, "paddingOuter": 0}},
               "y": {"field": "lo", "type": "quantitative"}}},
            {"data": {"name": "Gsig"}, "transform": [{"filter": "datum.to === 'VARS-si7'"}], "mark": {"type": "bar", "fillOpacity": 0, "stroke": "#000", "strokeWidth": 1.8},
             "encoding": {"xOffset": {"field": "to", "type": "nominal", "scale": {"domain": ["VARS-si7"], "paddingInner": 0, "paddingOuter": 1, "align": 0.25}},
               "y": {"field": "level", "type": "quantitative"}, "y2": {"field": "level"}}},
            {"data": {"name": "Gsig"}, "transform": [{"filter": "datum.to === 'VARS-si8'"}], "mark": {"type": "bar", "fillOpacity": 0, "stroke": "#000", "strokeWidth": 1.8},
             "encoding": {"xOffset": {"field": "to", "type": "nominal", "scale": {"domain": ["VARS-si8"], "paddingInner": 0, "paddingOuter": 0.25}},
               "y": {"field": "level", "type": "quantitative"}, "y2": {"field": "level"}}},
            {"data": {"name": "Gsig"}, "mark": {"type": "rule", "color": "#000", "strokeWidth": 1.8, "y2Offset": 5},
             "encoding": {"xOffset": {"datum": "UTC", "type": "nominal", "scale": {"domain": ["UTC", "VARS-si7", "VARS-si8"], "paddingInner": 0, "paddingOuter": 0}},
               "y": {"field": "level", "type": "quantitative"}, "y2": {"field": "level"}}},
            {"data": {"name": "Gsig"}, "mark": {"type": "rule", "color": "#000", "strokeWidth": 1.8, "y2Offset": 5},
             "encoding": {"xOffset": {"field": "to", "type": "nominal", "scale": {"domain": ["UTC", "VARS-si7", "VARS-si8"], "paddingInner": 0, "paddingOuter": 0}},
               "y": {"field": "level", "type": "quantitative"}, "y2": {"field": "level"}}},
            {"data": {"name": "Gsig"}, "transform": [{"filter": "datum.to === 'VARS-si7'"}], "mark": {"type": "text", "baseline": "alphabetic", "dy": 1, "font": "DejaVu Sans", "fontWeight": "bold", "fontSize": 8.5, "color": "#000"},
             "encoding": {"xOffset": {"field": "to", "type": "nominal", "scale": {"domain": ["VARS-si7"], "paddingInner": 0, "paddingOuter": 1, "align": 0.25}},
               "y": {"field": "level", "type": "quantitative"}, "text": {"field": "sig"}}},
            {"data": {"name": "Gsig"}, "transform": [{"filter": "datum.to === 'VARS-si8'"}], "mark": {"type": "text", "baseline": "alphabetic", "dy": 1, "font": "DejaVu Sans", "fontSize": 8.5, "color": "#000"},
             "encoding": {"xOffset": {"field": "to", "type": "nominal", "scale": {"domain": ["VARS-si8"], "paddingInner": 0, "paddingOuter": 0.25}},
               "y": {"field": "level", "type": "quantitative"}, "text": {"field": "sig"}}}
          ],
          "resolve": {"scale": {"xOffset": "independent"}}
        },
        {"width": 192, "height": 1, "data": {"values": []}, "mark": "point",
         "title": {"text": "H", "anchor": "start", "frame": "group", "dx": 101, "offset": -65, "baseline": "alphabetic", "font": "Liberation Serif", "fontSize": 36, "fontWeight": "bold", "color": "#000"}},
        {
          "width": 214, "height": 267,
          "title": {"text": "U16", "anchor": "start", "frame": "group", "dx": -8, "offset": -48, "baseline": "alphabetic", "font": "Liberation Serif", "fontSize": 16, "fontWeight": "normal", "color": "#000"},
          "data": {"name": "H"},
          "encoding": {"x": {"field": "dose", "type": "nominal", "scale": {"domain": ["0", "1.5625", "3.125", "6.25", "12.5"], "paddingInner": 0.25, "paddingOuter": 0.125},
            "axis": {"title": "ASO (nM)", "titleFont": "Liberation Serif", "titleFontSize": 14, "titleFontWeight": "normal", "titleColor": "#000", "titleAnchor": "end", "titleX": 212, "titleY": 36, "titleAlign": "right", "titleBaseline": "alphabetic", "labelAngle": 0, "labelFont": "DejaVu Sans", "labelFontSize": 10.5, "labelColor": "#000", "labelPadding": 7, "tickSize": 5, "tickColor": "#000", "tickWidth": 1.5, "domainColor": "#000", "domainWidth": 2, "bandPosition": -0.167, "grid": false}}},
          "layer": [
            {"mark": {"type": "bar", "stroke": "#000", "strokeWidth": 1.2},
             "encoding": {
               "xOffset": {"field": "grp", "type": "nominal", "scale": {"domain": ["UTC", "VARS-si7", "VARS-si8"], "paddingInner": 0, "paddingOuter": 0}},
               "y": {"field": "val", "type": "quantitative", "scale": {"domain": [0, 120], "range": [267, 43], "nice": false},
                 "axis": {"values": [0, 20, 40, 60, 80, 100, 120], "tickCount": 7, "title": "% of control", "titleFont": "Liberation Serif", "titleFontSize": 18, "titleFontWeight": "normal", "titleColor": "#000", "titleX": -40, "titleY": 59, "titleAlign": "right", "titleBaseline": "alphabetic", "labelFont": "DejaVu Sans", "labelFontSize": 10.5, "labelColor": "#000", "labelPadding": 6, "tickSize": 4, "tickColor": "#000", "tickWidth": 1.5, "domainColor": "#000", "domainWidth": 2, "grid": true, "gridColor": "#a6a6a6"}},
               "color": {"field": "grp", "type": "nominal", "scale": {"domain": ["UTC", "VARS-si7", "VARS-si8"], "range": ["#000000", "#808080", "#d9d9d9"]},
                 "legend": {"orient": "none", "legendX": 155, "legendY": 44, "direction": "vertical", "title": null, "symbolType": "square", "symbolSize": 90, "symbolStrokeColor": "#000", "symbolStrokeWidth": 1.5, "labelFont": "DejaVu Sans", "labelFontSize": 11, "labelColor": "#000", "labelOffset": 4, "rowPadding": 7, "padding": 0}}
             }},
            {"mark": {"type": "rule", "color": "#000", "strokeWidth": 1.2},
             "encoding": {"xOffset": {"field": "grp", "type": "nominal", "scale": {"domain": ["UTC", "VARS-si7", "VARS-si8"], "paddingInner": 0, "paddingOuter": 0}},
               "y": {"field": "lo", "type": "quantitative"}, "y2": {"field": "hi"}}},
            {"mark": {"type": "tick", "color": "#000", "size": 7, "thickness": 1.2},
             "encoding": {"xOffset": {"field": "grp", "type": "nominal", "scale": {"domain": ["UTC", "VARS-si7", "VARS-si8"], "paddingInner": 0, "paddingOuter": 0}},
               "y": {"field": "hi", "type": "quantitative"}}},
            {"mark": {"type": "tick", "color": "#000", "size": 7, "thickness": 1.2},
             "encoding": {"xOffset": {"field": "grp", "type": "nominal", "scale": {"domain": ["UTC", "VARS-si7", "VARS-si8"], "paddingInner": 0, "paddingOuter": 0}},
               "y": {"field": "lo", "type": "quantitative"}}},
            {"data": {"name": "Hsig"}, "transform": [{"filter": "datum.to === 'VARS-si7'"}], "mark": {"type": "bar", "fillOpacity": 0, "stroke": "#000", "strokeWidth": 1.8},
             "encoding": {"xOffset": {"field": "to", "type": "nominal", "scale": {"domain": ["VARS-si7"], "paddingInner": 0, "paddingOuter": 1, "align": 0.25}},
               "y": {"field": "level", "type": "quantitative"}, "y2": {"field": "level"}}},
            {"data": {"name": "Hsig"}, "transform": [{"filter": "datum.to === 'VARS-si8'"}], "mark": {"type": "bar", "fillOpacity": 0, "stroke": "#000", "strokeWidth": 1.8},
             "encoding": {"xOffset": {"field": "to", "type": "nominal", "scale": {"domain": ["VARS-si8"], "paddingInner": 0, "paddingOuter": 0.25}},
               "y": {"field": "level", "type": "quantitative"}, "y2": {"field": "level"}}},
            {"data": {"name": "Hsig"}, "mark": {"type": "rule", "color": "#000", "strokeWidth": 1.8, "y2Offset": 5},
             "encoding": {"xOffset": {"datum": "UTC", "type": "nominal", "scale": {"domain": ["UTC", "VARS-si7", "VARS-si8"], "paddingInner": 0, "paddingOuter": 0}},
               "y": {"field": "level", "type": "quantitative"}, "y2": {"field": "level"}}},
            {"data": {"name": "Hsig"}, "mark": {"type": "rule", "color": "#000", "strokeWidth": 1.8, "y2Offset": 5},
             "encoding": {"xOffset": {"field": "to", "type": "nominal", "scale": {"domain": ["UTC", "VARS-si7", "VARS-si8"], "paddingInner": 0, "paddingOuter": 0}},
               "y": {"field": "level", "type": "quantitative"}, "y2": {"field": "level"}}},
            {"data": {"name": "Hsig"}, "transform": [{"filter": "datum.to === 'VARS-si7'"}], "mark": {"type": "text", "baseline": "alphabetic", "dy": 1, "font": "DejaVu Sans", "fontSize": 8.5, "color": "#000"},
             "encoding": {"xOffset": {"field": "to", "type": "nominal", "scale": {"domain": ["VARS-si7"], "paddingInner": 0, "paddingOuter": 1, "align": 0.25}},
               "y": {"field": "level", "type": "quantitative"}, "text": {"field": "sig"}}},
            {"data": {"name": "Hsig"}, "transform": [{"filter": "datum.to === 'VARS-si8'"}], "mark": {"type": "text", "baseline": "alphabetic", "dy": 1, "font": "DejaVu Sans", "fontSize": 8.5, "color": "#000"},
             "encoding": {"xOffset": {"field": "to", "type": "nominal", "scale": {"domain": ["VARS-si8"], "paddingInner": 0, "paddingOuter": 0.25}},
               "y": {"field": "level", "type": "quantitative"}, "text": {"field": "sig"}}}
          ],
          "resolve": {"scale": {"xOffset": "independent"}}
        }
      ]
    }
  ]
}
